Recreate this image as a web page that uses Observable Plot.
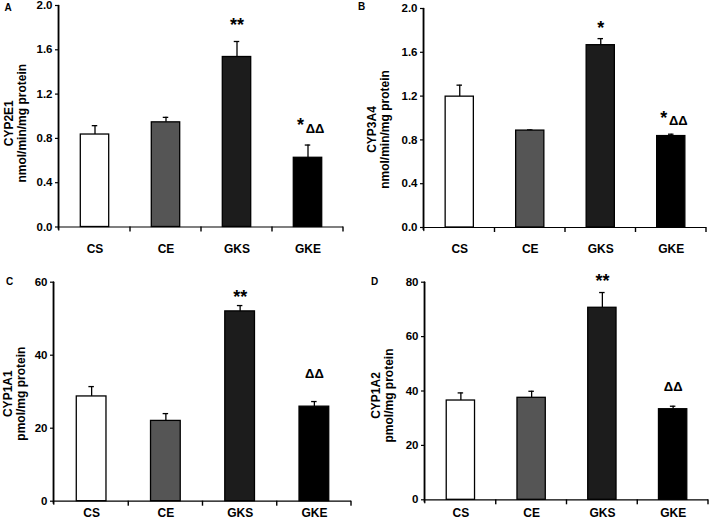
<!DOCTYPE html>
<html>
<head>
<meta charset="utf-8">
<script src="https://cdn.jsdelivr.net/npm/d3@7"></script>
<script src="https://cdn.jsdelivr.net/npm/@observablehq/plot@0.6"></script>
<style>
  html, body { margin: 0; padding: 0; background: #fff; }
  #chart { position: relative; width: 709px; height: 520px; overflow: hidden; }
  .panel { position: absolute; }
</style>
</head>
<body>
<div id="chart"></div>
<script>
// ---- data ----
const groups = ["CS", "CE", "GKS", "GKE"];

const cyp2e1Mean = [0.835, 0.945, 1.535, 0.625];
const cyp2e1Err  = [0.08, 0.045, 0.14, 0.115];
const cyp2e1Stars = ["", "", "**", "*"];
const cyp2e1StarY = [null, null, 1.865, 0.96];
const cyp2e1Deltas = ["", "", "", "ΔΔ"];
const cyp2e1DeltaY = [null, null, null, 0.89];

const cyp3a4Mean = [1.195, 0.885, 1.665, 0.835];
const cyp3a4Err  = [0.105, 0.006, 0.06, 0.017];
const cyp3a4Stars = ["", "", "*", "*"];
const cyp3a4StarY = [null, null, 1.86, 1.04];
const cyp3a4Deltas = ["", "", "", "ΔΔ"];
const cyp3a4DeltaY = [null, null, null, 0.975];

const cyp1a1Mean = [28.7, 22.0, 52.0, 25.9];
const cyp1a1Err  = [2.7, 2.0, 1.6, 1.4];
const cyp1a1Stars = ["", "", "**", ""];
const cyp1a1StarY = [null, null, 57, null];
const cyp1a1Deltas = ["", "", "", "ΔΔ"];
const cyp1a1DeltaY = [null, null, null, 34.9];

const cyp1a2Mean = [36.5, 37.5, 70.6, 33.3];
const cyp1a2Err  = [2.8, 2.4, 5.6, 1.1];
const cyp1a2Stars = ["", "", "**", ""];
const cyp1a2StarY = [null, null, 82, null];
const cyp1a2Deltas = ["", "", "", "ΔΔ"];
const cyp1a2DeltaY = [null, null, null, 41.4];

// ---- styles ----
const FONT = "'Liberation Sans', Arial, Helvetica, sans-serif";
const fills = {CS: "#ffffff", CE: "#555555", GKS: "#1c1c1c", GKE: "#000000"};

function panel(cfg) {
  const plotW = cfg.width - cfg.ml - cfg.mr;
  const plotH = cfg.height - cfg.mt - cfg.mb;
  const step = plotW / groups.length;
  const barInset = step * 0.3;
  const capInset = (step - 5.5) / 2;
  const [y0, y1] = cfg.domain;
  const perPx = (y1 - y0) / plotH;   // data units per pixel (tick lengths)
  const xPx = 1 / step;              // x units per pixel
  const rows = groups.map((g, i) => ({
    g, i, mid: i + 0.5, right: i + 1, mean: cfg.mean[i], err: cfg.err[i],
    star: cfg.stars[i], starY: cfg.starY[i],
    delta: cfg.deltas[i], deltaY: cfg.deltaY[i]
  }));
  // y axis as a thin filled strip and as a path
  const axisStrip = [{a: -1.4 * xPx, b: 0, lo: y0 - 3 * perPx, hi: y1}];
  const axisPath = [{x: -0.7 * xPx, y: y0 - 3 * perPx}, {x: -0.7 * xPx, y: y1}];
  const sepStrips = rows.map(r => ({a: r.right - 0.7 * xPx, b: r.right + 0.7 * xPx, lo: y0 - 5 * perPx, hi: y0}));
  const both = r => r.star && r.delta;
  const mids = rows.map(r => r.mid);
  const fig = Plot.plot({
    width: cfg.width, height: cfg.height,
    marginLeft: cfg.ml, marginRight: cfg.mr, marginTop: cfg.mt, marginBottom: cfg.mb,
    style: {fontFamily: FONT, fontWeight: "bold", fontSize: "11.5px", color: "#000", background: "transparent", overflow: "visible"},
    x: {domain: [0, groups.length], axis: null},
    y: {domain: cfg.domain, axis: null},
    marks: [
      Plot.axisY({ticks: cfg.ticks, tickFormat: cfg.fmt, tickSize: 4, tickPadding: 3, label: null, fontSize: 11.5, fontWeight: "bold", stroke: "#000", strokeWidth: 1.2}),
      Plot.axisX({ticks: mids, tickSize: 0, tickPadding: cfg.xpad, tickFormat: (d) => groups[Math.floor(d)], label: null, fontSize: 12, fontWeight: "bold"}),
      // error bars
      Plot.ruleX(rows, {x: "mid", y1: "mean", y2: d => d.mean + d.err, stroke: "#000", strokeWidth: 1.3}),
      Plot.ruleY(rows, {x1: "i", x2: "right", y: d => d.mean + d.err, insetLeft: capInset, insetRight: capInset, stroke: "#000", strokeWidth: 1.3}),
      // bars
      Plot.rectY(rows, {x1: "i", x2: "right", y: "mean", insetLeft: barInset, insetRight: barInset, fill: d => fills[d.g], stroke: "#000", strokeWidth: 1.3}),
      Plot.ruleY([y0], {stroke: "#000", strokeWidth: 1.2}),
      // annotations
      Plot.text(rows.filter(r => r.star && !r.delta), {x: "mid", y: "starY", text: "star", fontSize: 18, fontWeight: "bold", dy: 4.5}),
      Plot.text(rows.filter(both), {x: "mid", y: "starY", text: "star", fontSize: 18, fontWeight: "bold", dx: -7.5, dy: 4.5}),
      Plot.text(rows.filter(both), {x: "mid", y: "deltaY", text: "delta", fontSize: 13, fontWeight: "bold", dx: 7}),
      Plot.text(rows.filter(r => r.delta && !r.star), {x: "mid", y: "deltaY", text: "delta", fontSize: 13, fontWeight: "bold"}),
      // y label
      Plot.text([cfg.ylabel], {frameAnchor: "left", rotate: -90, dx: cfg.ldx, dy: cfg.ldy, fontSize: 12, fontWeight: "bold", lineHeight: 1.1, textAnchor: "middle", lineAnchor: "middle"}),
      // panel letter
      Plot.text([cfg.letter], {frameAnchor: "top-left", dx: cfg.letX - cfg.ml, dy: cfg.letY - cfg.mt, fontSize: 10, fontWeight: "bold", textAnchor: "middle", lineAnchor: "middle"}),
      // y axis line and category separator ticks
      Plot.rect(axisStrip, {x1: "a", x2: "b", y1: "lo", y2: "hi", fill: "#000"}),
      Plot.line(axisPath, {x: "x", y: "y", stroke: "#000", strokeWidth: 1.3}),
      Plot.rect(sepStrips, {x1: "a", x2: "b", y1: "lo", y2: "hi", fill: "#000"})
    ]
  });
  fig.classList.add("panel");
  fig.style.left = cfg.left + "px";
  fig.style.top = cfg.top + "px";
  return fig;
}

const chart = document.getElementById("chart");
chart.appendChild(panel({
  left: 0, top: 0, width: 355, height: 260, ml: 59, mr: 12, mt: 5, mb: 33.5,
  domain: [0, 2], ticks: [0, 0.4, 0.8, 1.2, 1.6, 2.0], fmt: d3.format(".1f"), xpad: 17.5,
  mean: cyp2e1Mean, err: cyp2e1Err, stars: cyp2e1Stars, starY: cyp2e1StarY, deltas: cyp2e1Deltas, deltaY: cyp2e1DeltaY,
  ylabel: "CYP2E1\nnmol/min/mg protein", ldx: -44, ldy: 7, letter: "A", letX: 7.5, letY: 7.5
}));
chart.appendChild(panel({
  left: 355, top: 0, width: 354, height: 260, ml: 69, mr: 3, mt: 8, mb: 33,
  domain: [0, 2], ticks: [0, 0.4, 0.8, 1.2, 1.6, 2.0], fmt: d3.format(".1f"), xpad: 16.5,
  mean: cyp3a4Mean, err: cyp3a4Err, stars: cyp3a4Stars, starY: cyp3a4StarY, deltas: cyp3a4Deltas, deltaY: cyp3a4DeltaY,
  ylabel: "CYP3A4\nnmol/min/mg protein", ldx: -46.5, ldy: 11.5, letter: "B", letX: 6, letY: 6
}));
chart.appendChild(panel({
  left: 0, top: 260, width: 355, height: 260, ml: 54, mr: 4, mt: 21.7, mb: 19.3,
  domain: [0, 60], ticks: [0, 20, 40, 60], fmt: d3.format("d"), xpad: 7,
  mean: cyp1a1Mean, err: cyp1a1Err, stars: cyp1a1Stars, starY: cyp1a1StarY, deltas: cyp1a1Deltas, deltaY: cyp1a1DeltaY,
  ylabel: "CYP1A1\npmol/mg protein", ldx: -40.5, ldy: 2, letter: "C", letX: 9, letY: 21.5
}));
chart.appendChild(panel({
  left: 355, top: 260, width: 354, height: 260, ml: 70, mr: 1, mt: 21.7, mb: 20.7,
  domain: [0, 80], ticks: [0, 20, 40, 60, 80], fmt: d3.format("d"), xpad: 9,
  mean: cyp1a2Mean, err: cyp1a2Err, stars: cyp1a2Stars, starY: cyp1a2StarY, deltas: cyp1a2Deltas, deltaY: cyp1a2DeltaY,
  ylabel: "CYP1A2\npmol/mg protein", ldx: -43.3, ldy: 4.5, letter: "D", letX: 19, letY: 21.5
}));
</script>
</body>
</html>
